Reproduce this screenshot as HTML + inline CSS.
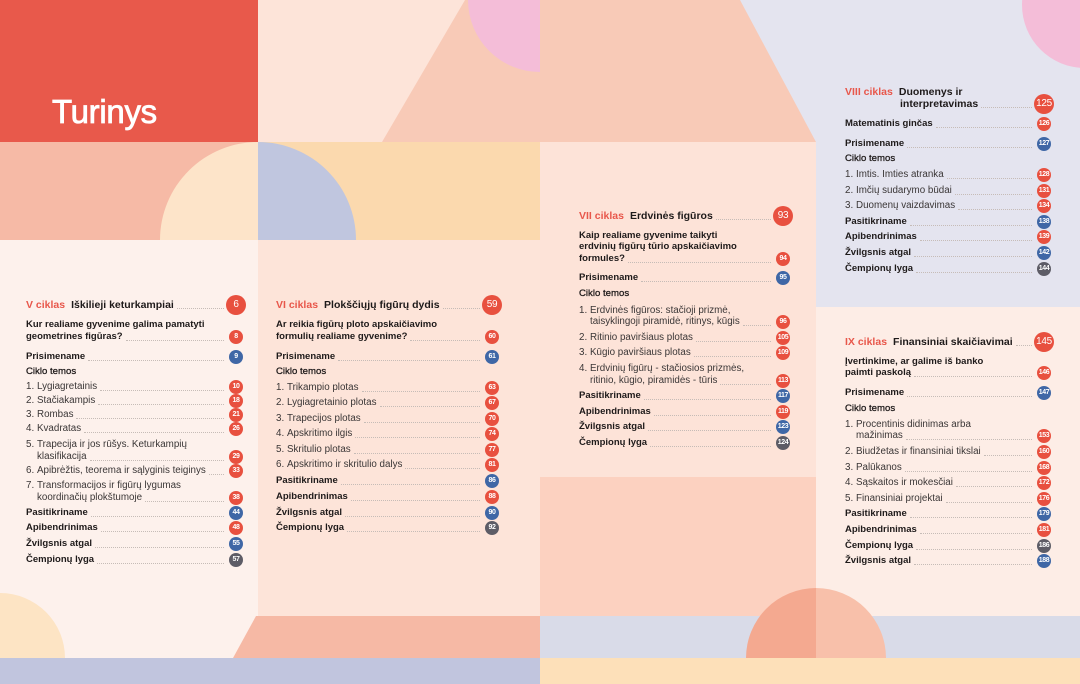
<!DOCTYPE html>
<html><head><meta charset="utf-8">
<style>
*{margin:0;padding:0;box-sizing:border-box}
body{width:1080px;height:684px;position:relative;overflow:hidden;font-family:"Liberation Sans",sans-serif;background:#fde4d9}
svg.bg{position:absolute;left:0;top:0}
.title{position:absolute;left:52px;top:95px;font-size:33px;line-height:33px;color:#fff;-webkit-text-stroke:.8px #fff;letter-spacing:-.3px}
.c{position:absolute;top:0;height:0}
.r{position:absolute;left:0;right:0;height:12px;line-height:12px;font-size:9.8px;display:flex;white-space:nowrap;color:#3a3636}
.r.b{font-weight:bold;color:#1e1a1a;font-size:9.5px}
.r.m{color:#1e1a1a;-webkit-text-stroke:.3px #1e1a1a;font-size:9.6px}
.r i{flex:1;border-bottom:1px dotted #c6bcb7;margin:0 12px 2.5px 3px;height:0;align-self:flex-end}
.r u{text-decoration:none;display:inline-block;width:11px;flex:none}
.r.in{padding-left:11px}
.k{position:absolute;left:100%;top:-1px;width:14px;height:14px;margin-left:-7px;border-radius:50%;color:#fff;font-size:7px;font-weight:bold;line-height:14px;text-align:center;background:#e8503f;letter-spacing:-.4px;font-style:normal}
.k.bl{background:#3f67a6}
.k.gr{background:#5d5c66}
.r.h{height:14px;line-height:14px;font-size:10.5px;font-weight:bold;color:#1e1a1a}
.h em{font-style:normal;color:#e8574b;margin-right:6px}
.h .k{width:20px;height:20px;margin-left:-10px;top:-3px;line-height:20px;font-size:10px;font-weight:normal;letter-spacing:-.3px}
.h i{margin-bottom:3px}
</style></head><body>
<svg class="bg" width="1080" height="684" viewBox="0 0 1080 684">
<defs><clipPath id="c1"><rect x="258" y="0" width="282" height="142"/></clipPath></defs>
<rect x="0" y="0" width="1080" height="684" fill="#fde4d9"/>
<rect x="0" y="0" width="258" height="142" fill="#e8594b"/>
<rect x="258" y="0" width="282" height="142" fill="#fde4d9"/>
<polygon points="465,0 540,0 540,142 382,142" fill="#f8cab7"/>
<circle cx="540" cy="0" r="72" fill="#f4bdd8" clip-path="url(#c1)"/>
<rect x="0" y="142" width="258" height="98" fill="#f6baa6"/>
<path d="M258,142 A98,98 0 0 0 160,240 L258,240 Z" fill="#fde4c9"/>
<rect x="258" y="142" width="282" height="98" fill="#fbd9ae"/>
<path d="M258,142 A98,98 0 0 1 356,240 L258,240 Z" fill="#c0c6df"/>
<rect x="0" y="240" width="258" height="418" fill="#fdf1ec"/>
<rect x="258" y="240" width="282" height="376" fill="#fde4d9"/>
<path d="M0,593 A65,65 0 0 1 65,658 L0,658 Z" fill="#fde4c4"/>
<polygon points="256,616 540,616 540,658 233,658" fill="#f6b9a5"/>
<rect x="0" y="658" width="540" height="26" fill="#c1c5de"/>
<rect x="540" y="0" width="540" height="307" fill="#e4e4ef"/>
<polygon points="540,0 740,0 816,142 540,142" fill="#f8cab7"/>
<circle cx="1085" cy="5" r="63" fill="#f4bdd8"/>
<rect x="540" y="142" width="276" height="335" fill="#fde3d8"/>
<rect x="540" y="477" width="276" height="139" fill="#fcd1c0"/>
<rect x="816" y="307" width="264" height="309" fill="#fdede6"/>
<rect x="540" y="616" width="540" height="42" fill="#d9dbe8"/>
<rect x="540" y="658" width="540" height="26" fill="#fde0b9"/>
<path d="M746,658 A70,70 0 0 1 816,588 L816,658 Z" fill="#f4a990"/>
<path d="M816,588 A70,70 0 0 1 886,658 L816,658 Z" fill="#f8c0aa"/>
</svg>

<div class="title">Turinys</div>

<!-- Column 1 -->
<div class="c" style="left:26px;width:210px">
<div class="r h" style="top:298px"><em>V ciklas</em><span>Iškilieji keturkampiai</span><i></i><b class="k">6</b></div>
<div class="r b" style="top:319px"><span>Kur realiame gyvenime galima pamatyti</span></div>
<div class="r b" style="top:331px"><span>geometrines figūras?</span><i></i><b class="k">8</b></div>
<div class="r b" style="top:351px"><span>Prisimename</span><i></i><b class="k bl">9</b></div>
<div class="r m" style="top:366px"><span>Ciklo temos</span></div>
<div class="r" style="top:381px"><u>1.</u><span>Lygiagretainis</span><i></i><b class="k">10</b></div>
<div class="r" style="top:395px"><u>2.</u><span>Stačiakampis</span><i></i><b class="k">18</b></div>
<div class="r" style="top:409px"><u>3.</u><span>Rombas</span><i></i><b class="k">21</b></div>
<div class="r" style="top:423px"><u>4.</u><span>Kvadratas</span><i></i><b class="k">26</b></div>
<div class="r" style="top:439px"><u>5.</u><span>Trapecija ir jos rūšys. Keturkampių</span></div>
<div class="r in" style="top:451px"><span>klasifikacija</span><i></i><b class="k">29</b></div>
<div class="r" style="top:465px"><u>6.</u><span>Apibrėžtis, teorema ir sąlyginis teiginys</span><i></i><b class="k">33</b></div>
<div class="r" style="top:480px"><u>7.</u><span>Transformacijos ir figūrų lygumas</span></div>
<div class="r in" style="top:492px"><span>koordinačių plokštumoje</span><i></i><b class="k">38</b></div>
<div class="r b" style="top:507px"><span>Pasitikriname</span><i></i><b class="k bl">44</b></div>
<div class="r b" style="top:522px"><span>Apibendrinimas</span><i></i><b class="k">48</b></div>
<div class="r b" style="top:538px"><span>Žvilgsnis atgal</span><i></i><b class="k bl">55</b></div>
<div class="r b" style="top:554px"><span>Čempionų lyga</span><i></i><b class="k gr">57</b></div>
</div>

<!-- Column 2 -->
<div class="c" style="left:276px;width:216px">
<div class="r h" style="top:298px"><em>VI ciklas</em><span>Plokščiųjų figūrų dydis</span><i></i><b class="k">59</b></div>
<div class="r b" style="top:319px"><span>Ar reikia figūrų ploto apskaičiavimo</span></div>
<div class="r b" style="top:331px"><span>formulių realiame gyvenime?</span><i></i><b class="k">60</b></div>
<div class="r b" style="top:351px"><span>Prisimename</span><i></i><b class="k bl">61</b></div>
<div class="r m" style="top:366px"><span>Ciklo temos</span></div>
<div class="r" style="top:382px"><u>1.</u><span>Trikampio plotas</span><i></i><b class="k">63</b></div>
<div class="r" style="top:397px"><u>2.</u><span>Lygiagretainio plotas</span><i></i><b class="k">67</b></div>
<div class="r" style="top:413px"><u>3.</u><span>Trapecijos plotas</span><i></i><b class="k">70</b></div>
<div class="r" style="top:428px"><u>4.</u><span>Apskritimo ilgis</span><i></i><b class="k">74</b></div>
<div class="r" style="top:444px"><u>5.</u><span>Skritulio plotas</span><i></i><b class="k">77</b></div>
<div class="r" style="top:459px"><u>6.</u><span>Apskritimo ir skritulio dalys</span><i></i><b class="k">81</b></div>
<div class="r b" style="top:475px"><span>Pasitikriname</span><i></i><b class="k bl">86</b></div>
<div class="r b" style="top:491px"><span>Apibendrinimas</span><i></i><b class="k">88</b></div>
<div class="r b" style="top:507px"><span>Žvilgsnis atgal</span><i></i><b class="k bl">90</b></div>
<div class="r b" style="top:522px"><span>Čempionų lyga</span><i></i><b class="k gr">92</b></div>
</div>

<!-- Column 3 -->
<div class="c" style="left:579px;width:204px">
<div class="r h" style="top:209px"><em>VII ciklas</em><span>Erdvinės figūros</span><i></i><b class="k">93</b></div>
<div class="r b" style="top:230px"><span>Kaip realiame gyvenime taikyti</span></div>
<div class="r b" style="top:241px"><span>erdvinių figūrų tūrio apskaičiavimo</span></div>
<div class="r b" style="top:253px"><span>formules?</span><i></i><b class="k">94</b></div>
<div class="r b" style="top:272px"><span>Prisimename</span><i></i><b class="k bl">95</b></div>
<div class="r m" style="top:288px"><span>Ciklo temos</span></div>
<div class="r" style="top:305px"><u>1.</u><span>Erdvinės figūros: stačioji prizmė,</span></div>
<div class="r in" style="top:316px"><span>taisyklingoji piramidė, ritinys, kūgis</span><i></i><b class="k">96</b></div>
<div class="r" style="top:332px"><u>2.</u><span>Ritinio paviršiaus plotas</span><i></i><b class="k">105</b></div>
<div class="r" style="top:347px"><u>3.</u><span>Kūgio paviršiaus plotas</span><i></i><b class="k">109</b></div>
<div class="r" style="top:363px"><u>4.</u><span>Erdvinių figūrų - stačiosios prizmės,</span></div>
<div class="r in" style="top:375px"><span>ritinio, kūgio, piramidės - tūris</span><i></i><b class="k">113</b></div>
<div class="r b" style="top:390px"><span>Pasitikriname</span><i></i><b class="k bl">117</b></div>
<div class="r b" style="top:406px"><span>Apibendrinimas</span><i></i><b class="k">119</b></div>
<div class="r b" style="top:421px"><span>Žvilgsnis atgal</span><i></i><b class="k bl">123</b></div>
<div class="r b" style="top:437px"><span>Čempionų lyga</span><i></i><b class="k gr">124</b></div>
</div>

<!-- Column 4 -->
<div class="c" style="left:845px;width:199px">
<div class="r h" style="top:85px"><em>VIII ciklas</em><span>Duomenys ir</span></div>
<div class="r h" style="top:97px;padding-left:55px"><span>interpretavimas</span><i></i><b class="k">125</b></div>
<div class="r b" style="top:118px"><span>Matematinis ginčas</span><i></i><b class="k">126</b></div>
<div class="r b" style="top:138px"><span>Prisimename</span><i></i><b class="k bl">127</b></div>
<div class="r m" style="top:153px"><span>Ciklo temos</span></div>
<div class="r" style="top:169px"><u>1.</u><span>Imtis. Imties atranka</span><i></i><b class="k">128</b></div>
<div class="r" style="top:185px"><u>2.</u><span>Imčių sudarymo būdai</span><i></i><b class="k">131</b></div>
<div class="r" style="top:200px"><u>3.</u><span>Duomenų vaizdavimas</span><i></i><b class="k">134</b></div>
<div class="r b" style="top:216px"><span>Pasitikriname</span><i></i><b class="k bl">138</b></div>
<div class="r b" style="top:231px"><span>Apibendrinimas</span><i></i><b class="k">139</b></div>
<div class="r b" style="top:247px"><span>Žvilgsnis atgal</span><i></i><b class="k bl">142</b></div>
<div class="r b" style="top:263px"><span>Čempionų lyga</span><i></i><b class="k gr">144</b></div>

<div class="r h" style="top:335px"><em>IX ciklas</em><span>Finansiniai skaičiavimai</span><i></i><b class="k">145</b></div>
<div class="r b" style="top:356px"><span>Įvertinkime, ar galime iš banko</span></div>
<div class="r b" style="top:367px"><span>paimti paskolą</span><i></i><b class="k">146</b></div>
<div class="r b" style="top:387px"><span>Prisimename</span><i></i><b class="k bl">147</b></div>
<div class="r m" style="top:403px"><span>Ciklo temos</span></div>
<div class="r" style="top:419px"><u>1.</u><span>Procentinis didinimas arba</span></div>
<div class="r in" style="top:430px"><span>mažinimas</span><i></i><b class="k">153</b></div>
<div class="r" style="top:446px"><u>2.</u><span>Biudžetas ir finansiniai tikslai</span><i></i><b class="k">160</b></div>
<div class="r" style="top:462px"><u>3.</u><span>Palūkanos</span><i></i><b class="k">168</b></div>
<div class="r" style="top:477px"><u>4.</u><span>Sąskaitos ir mokesčiai</span><i></i><b class="k">172</b></div>
<div class="r" style="top:493px"><u>5.</u><span>Finansiniai projektai</span><i></i><b class="k">176</b></div>
<div class="r b" style="top:508px"><span>Pasitikriname</span><i></i><b class="k bl">179</b></div>
<div class="r b" style="top:524px"><span>Apibendrinimas</span><i></i><b class="k">181</b></div>
<div class="r b" style="top:540px"><span>Čempionų lyga</span><i></i><b class="k gr">186</b></div>
<div class="r b" style="top:555px"><span>Žvilgsnis atgal</span><i></i><b class="k bl">188</b></div>
</div>
</body></html>
